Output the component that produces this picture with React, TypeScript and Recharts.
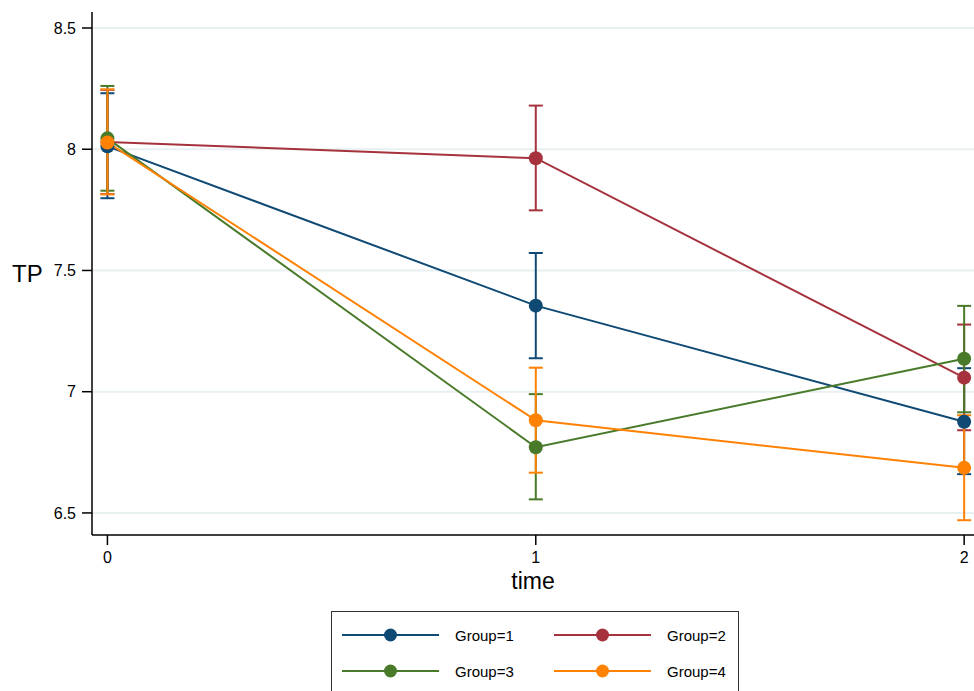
import { LineChart, Line, XAxis, YAxis, CartesianGrid, ErrorBar } from 'recharts';

const times = [0, 1, 2];

const g1Mean = [8.012, 7.355, 6.876];
const g1Lo = [7.798, 7.138, 6.66];
const g1Hi = [8.231, 7.572, 7.097];

const g2Mean = [8.03, 7.963, 7.058];
const g2Lo = [7.815, 7.748, 6.841];
const g2Hi = [8.245, 8.18, 7.277];

const g3Mean = [8.045, 6.771, 7.136];
const g3Lo = [7.829, 6.556, 6.915];
const g3Hi = [8.261, 6.99, 7.354];

const g4Mean = [8.028, 6.882, 6.686];
const g4Lo = [7.814, 6.666, 6.47];
const g4Hi = [8.247, 7.099, 6.903];

const yTicks = [6.5, 7, 7.5, 8, 8.5];
const xTicks = [0, 1, 2];

const groups = [
    { key: 'g1', name: 'Group=1', color: '#0f4a74', mean: g1Mean, lo: g1Lo, hi: g1Hi },
    { key: 'g2', name: 'Group=2', color: '#a5323c', mean: g2Mean, lo: g2Lo, hi: g2Hi },
    { key: 'g3', name: 'Group=3', color: '#497a29', mean: g3Mean, lo: g3Lo, hi: g3Hi },
    { key: 'g4', name: 'Group=4', color: '#ff8205', mean: g4Mean, lo: g4Lo, hi: g4Hi },
];

// rows for recharts, error bars as [below, above] deltas
const data = times.map((t, i) => {
    const row: any = { time: t };
    groups.forEach((g) => {
        row[g.key] = g.mean[i];
        row[g.key + 'Err'] = [g.mean[i] - g.lo[i], g.hi[i] - g.mean[i]];
    });
    return row;
});

const font = 'Arial, "Liberation Sans", Helvetica, sans-serif';

const LegendBox = () => (
    <div
        style={{
            position: 'absolute',
            left: 331,
            top: 611,
            width: 408,
            height: 100,
            border: '1.5px solid #333',
            boxSizing: 'border-box',
            fontFamily: font,
            fontSize: 15,
            color: '#000',
        }}
    >
        {groups.map((g, i) => {
            const col = i % 2;
            const row = Math.floor(i / 2);
            return (
                <div
                    key={g.key}
                    style={{ position: 'absolute', left: 10 + col * 212, top: 12 + row * 36, height: 22, display: 'flex', alignItems: 'center' }}
                >
                    <svg width={98} height={22}>
                        <line x1={0} y1={11} x2={97} y2={11} stroke={g.color} strokeWidth={2} />
                        <circle cx={48.5} cy={11} r={6.5} fill={g.color} />
                    </svg>
                    <span style={{ marginLeft: 15 }}>{g.name}</span>
                </div>
            );
        })}
    </div>
);

const App = () => {
    return (
        <div style={{ position: 'absolute', left: 0, top: 0, width: 974, height: 691, overflow: 'hidden', background: '#fff' }}>
            <LineChart
                width={974}
                height={691}
                data={data}
                margin={{ top: 12, right: 0, left: 0, bottom: 126 }}
                style={{ fontFamily: font }}
            >
                <CartesianGrid horizontal vertical={false} syncWithTicks stroke="#e8f0f1" strokeWidth={2} />
                <XAxis
                    type="number"
                    dataKey="time"
                    domain={[-0.036, 2.023]}
                    allowDataOverflow
                    ticks={xTicks}
                    height={30}
                    tickSize={10}
                    tickMargin={7}
                    stroke="#000"
                    strokeWidth={1.5}
                    tick={{ fill: '#000', fontSize: 16 }}
                    label={{ value: 'time', position: 'bottom', offset: 8, fill: '#000', fontSize: 23 }}
                />
                <YAxis
                    type="number"
                    domain={[6.409, 8.566]}
                    allowDataOverflow
                    ticks={yTicks}
                    width={92}
                    tickSize={10}
                    tickMargin={6}
                    stroke="#000"
                    strokeWidth={1.5}
                    tick={{ fill: '#000', fontSize: 16 }}
                    label={{ value: 'TP', position: 'insideLeft', offset: 12, angle: 0, fill: '#000', fontSize: 24 }}
                />
                {/* confidence intervals first, so lines and markers sit on top */}
                {groups.map((g) => (
                    <Line
                        key={g.key + 'ci'}
                        dataKey={g.key}
                        stroke="none"
                        dot={false}
                        activeDot={false}
                        legendType="none"
                        isAnimationActive={false}
                    >
                        <ErrorBar dataKey={g.key + 'Err'} direction="y" width={7} stroke={g.color} strokeWidth={2} />
                    </Line>
                ))}
                {groups.map((g) => (
                    <Line
                        key={g.key}
                        dataKey={g.key}
                        name={g.name}
                        type="linear"
                        stroke={g.color}
                        strokeWidth={2}
                        dot={{ r: 7, fill: g.color, stroke: g.color, strokeWidth: 0 }}
                        activeDot={false}
                        isAnimationActive={false}
                    />
                ))}
            </LineChart>
            <LegendBox />
        </div>
    );
};

export default App;
